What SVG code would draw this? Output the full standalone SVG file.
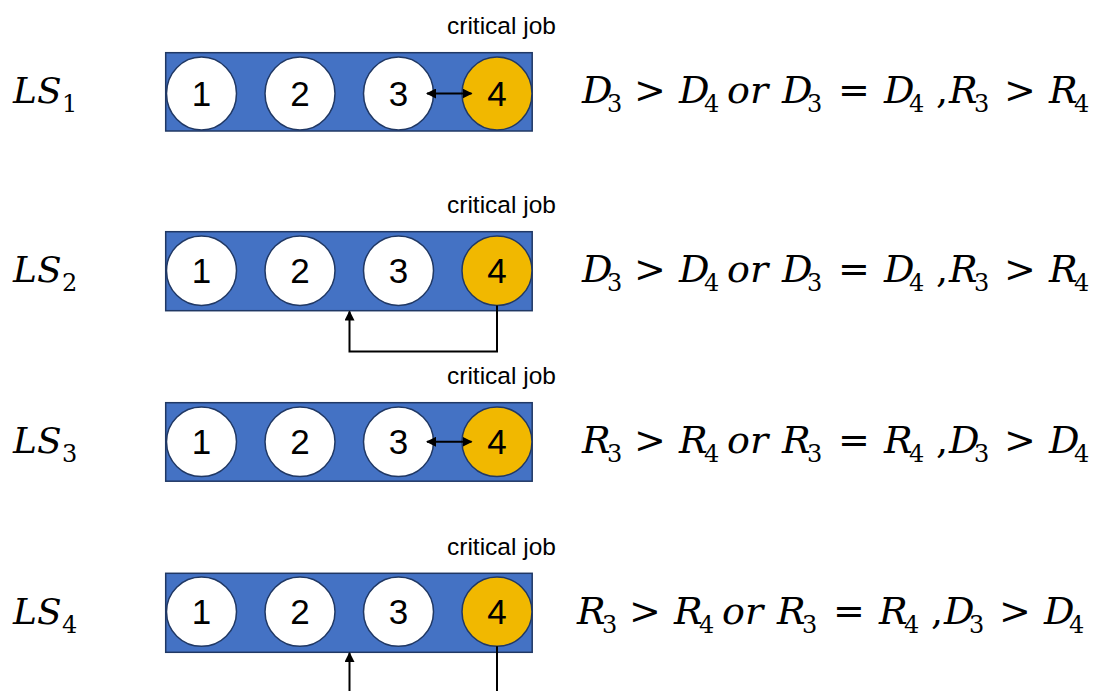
<svg xmlns="http://www.w3.org/2000/svg" width="1100" height="691" viewBox="0 0 1100 691">
<style>
.bar{fill:#4472c4;stroke:#203864;stroke-width:1.5}
.c{fill:#ffffff;stroke:#203864;stroke-width:1.5}
.g{fill:#f1b800;stroke:#203864;stroke-width:1.5}
.n{font-family:"Liberation Sans",Arial,sans-serif;font-size:35px;fill:#000;text-anchor:middle}
.cj{font-family:"Liberation Sans",Arial,sans-serif;font-size:24.5px;fill:#000}
.m{font-family:"DejaVu Serif",serif;font-style:italic;font-size:38px;fill:#000}
.ls{font-family:"DejaVu Serif",serif;font-style:italic;font-size:36px;fill:#000}
.u{font-family:"DejaVu Serif",serif;font-size:38px;fill:#000}
.s{font-family:"DejaVu Serif",serif;font-size:24px;fill:#000}
.ln{fill:none;stroke:#000;stroke-width:2}
</style>
<defs>
<marker id="ah" markerWidth="10" markerHeight="10" refX="9" refY="5" orient="auto-start-reverse" markerUnits="userSpaceOnUse">
<path d="M0,0 L10,5 L0,10 Z" fill="#000"/>
</marker>
<g id="f1">
<text class="m" x="0" y="0">D</text><text class="s" x="25" y="9">3</text>
<text class="u" x="52" y="0">&gt;</text>
<text class="m" x="97" y="0">D</text><text class="s" x="122" y="9">4</text>
<text class="m" x="145" y="0">or</text>
<text class="m" x="200" y="0">D</text><text class="s" x="225" y="9">3</text>
<text class="u" x="256" y="0">=</text>
<text class="m" x="302" y="0">D</text><text class="s" x="327" y="9">4</text>
<text class="u" x="354" y="0">,</text>
<text class="m" x="367" y="0">R</text><text class="s" x="392" y="9">3</text>
<text class="u" x="422" y="0">&gt;</text>
<text class="m" x="467" y="0">R</text><text class="s" x="492" y="9">4</text>
</g>
<g id="f2">
<text class="m" x="0" y="0">R</text><text class="s" x="25" y="9">3</text>
<text class="u" x="52" y="0">&gt;</text>
<text class="m" x="97" y="0">R</text><text class="s" x="122" y="9">4</text>
<text class="m" x="145" y="0">or</text>
<text class="m" x="200" y="0">R</text><text class="s" x="225" y="9">3</text>
<text class="u" x="256" y="0">=</text>
<text class="m" x="302" y="0">R</text><text class="s" x="327" y="9">4</text>
<text class="u" x="354" y="0">,</text>
<text class="m" x="367" y="0">D</text><text class="s" x="392" y="9">3</text>
<text class="u" x="422" y="0">&gt;</text>
<text class="m" x="467" y="0">D</text><text class="s" x="492" y="9">4</text>
</g>
</defs>

<g id="row1">
<text class="ls" x="13" y="103">LS</text><text class="s" x="62" y="112">1</text>
<text class="cj" x="447" y="34">critical job</text>
<rect class="bar" x="165.7" y="52.7" width="366.5" height="78.3"/>
<ellipse class="c" cx="201.5" cy="93.5" rx="35" ry="36.5"/>
<ellipse class="c" cx="300" cy="93.5" rx="35" ry="36.5"/>
<ellipse class="c" cx="398.5" cy="93.5" rx="35" ry="36.5"/>
<ellipse class="g" cx="497" cy="93.5" rx="35" ry="36.5"/>
<text class="n" x="201.5" y="106">1</text><text class="n" x="300" y="106">2</text><text class="n" x="398.5" y="106">3</text><text class="n" x="497" y="106">4</text>
<use href="#f1" x="582" y="103"/>
</g>

<g id="row2">
<text class="ls" x="13" y="282">LS</text><text class="s" x="62" y="291">2</text>
<text class="cj" x="447" y="213">critical job</text>
<rect class="bar" x="165.7" y="231.7" width="366.5" height="79"/>
<ellipse class="c" cx="201.5" cy="270.7" rx="35" ry="34.8"/>
<ellipse class="c" cx="300" cy="270.7" rx="35" ry="34.8"/>
<ellipse class="c" cx="398.5" cy="270.7" rx="35" ry="34.8"/>
<ellipse class="g" cx="497" cy="270.7" rx="35" ry="34.8"/>
<text class="n" x="201.5" y="283">1</text><text class="n" x="300" y="283">2</text><text class="n" x="398.5" y="283">3</text><text class="n" x="497" y="283">4</text>
<use href="#f1" x="582" y="282"/>
</g>

<g id="row3">
<text class="ls" x="13" y="453">LS</text><text class="s" x="62" y="462">3</text>
<text class="cj" x="447" y="384">critical job</text>
<rect class="bar" x="165.7" y="402.7" width="366.5" height="78.5"/>
<ellipse class="c" cx="201.5" cy="441.8" rx="35" ry="34.8"/>
<ellipse class="c" cx="300" cy="441.8" rx="35" ry="34.8"/>
<ellipse class="c" cx="398.5" cy="441.8" rx="35" ry="34.8"/>
<ellipse class="g" cx="497" cy="441.8" rx="35" ry="34.8"/>
<text class="n" x="201.5" y="454">1</text><text class="n" x="300" y="454">2</text><text class="n" x="398.5" y="454">3</text><text class="n" x="497" y="454">4</text>
<use href="#f2" x="582" y="453"/>
</g>

<g id="row4">
<text class="ls" x="13" y="624">LS</text><text class="s" x="62" y="633">4</text>
<text class="cj" x="447" y="555">critical job</text>
<rect class="bar" x="165.7" y="573.3" width="366.5" height="79"/>
<ellipse class="c" cx="201.5" cy="611.7" rx="35" ry="34.6"/>
<ellipse class="c" cx="300" cy="611.7" rx="35" ry="34.6"/>
<ellipse class="c" cx="398.5" cy="611.7" rx="35" ry="34.6"/>
<ellipse class="g" cx="497" cy="611.7" rx="35" ry="34.6"/>
<text class="n" x="201.5" y="624">1</text><text class="n" x="300" y="624">2</text><text class="n" x="398.5" y="624">3</text><text class="n" x="497" y="624">4</text>
<use href="#f2" x="577" y="624"/>
</g>

<g id="connectors">
<line class="ln" x1="427" y1="93.5" x2="471.5" y2="93.5" marker-start="url(#ah)" marker-end="url(#ah)"/>
<polyline class="ln" points="497,305.5 497,351.5 349.5,351.5 349.5,311.5" marker-end="url(#ah)"/>
<line class="ln" x1="427" y1="441.8" x2="471.5" y2="441.8" marker-start="url(#ah)" marker-end="url(#ah)"/>
<line class="ln" x1="349.5" y1="691" x2="349.5" y2="653" marker-end="url(#ah)"/>
<line class="ln" x1="497" y1="646.3" x2="497" y2="691"/>
</g>
</svg>
